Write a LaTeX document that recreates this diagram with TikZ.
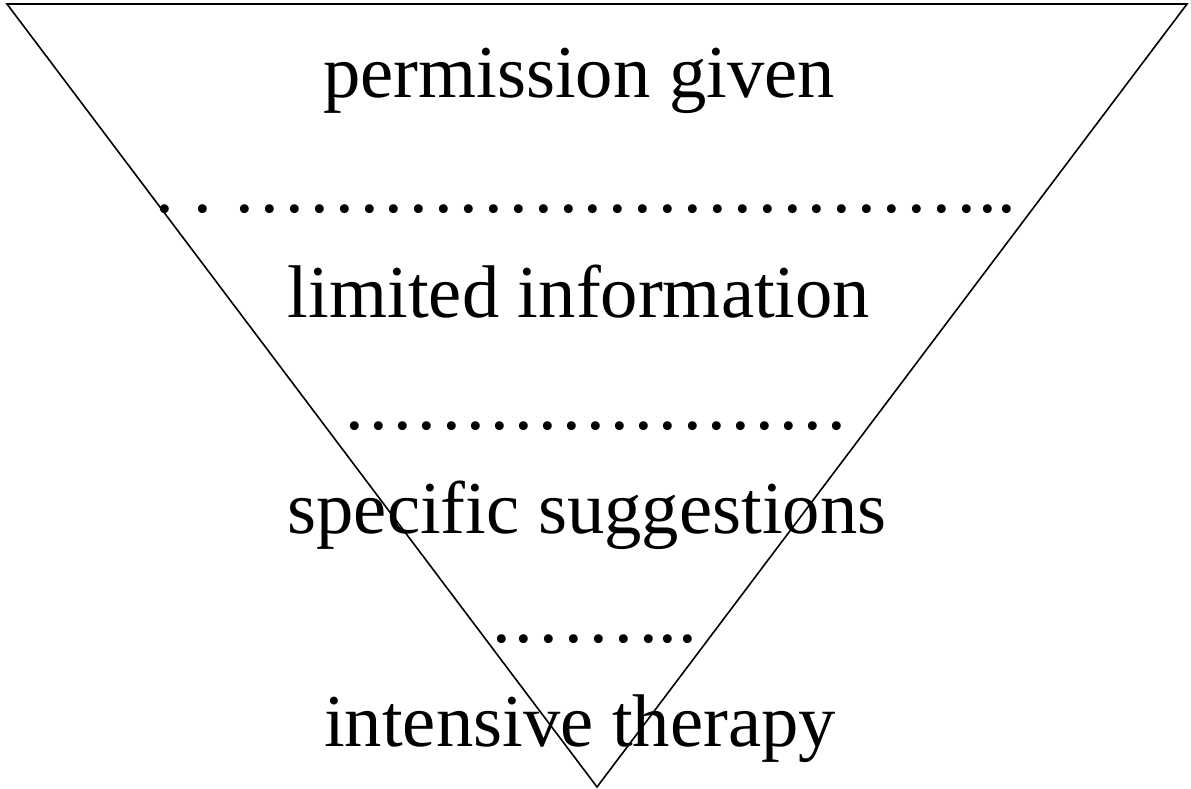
\documentclass[tikz,border=0pt]{standalone}
\usepackage{fontspec}
\setmainfont{Liberation Serif}
\begin{document}
\begin{tikzpicture}[x=1pt,y=-1pt,
  label/.style={inner sep=0pt,outer sep=0pt,anchor=base,font=\fontsize{74.6}{80}\selectfont},
  dotsrow/.style={inner sep=0pt,outer sep=0pt,anchor=base west,font=\fontsize{74.6}{80}\selectfont},
  edge/.style={line width=1.6pt,line join=miter}]
\useasboundingbox (0,0) rectangle (1191,789);
\coordinate (tl) at (7,4);
\coordinate (tr) at (1187,4);
\coordinate (ap) at (597,787);
\draw[edge] (tl) -- (tr) -- (ap) -- cycle;
\node[label] (t1) at (579,98) {permission given};
\node[label] (t2) at (579,317) {limited information};
\node[label] (t3) at (587,533) {specific suggestions};
\node[label] (t4) at (580,746) {intensive therapy};
\node[dotsrow] (d1) at (155.7,212) {.\kern19.35pt.\kern23.35pt.\kern6.23pt.\kern6.23pt.\kern6.23pt.\kern6.23pt.\kern6.23pt.\kern6.23pt.\kern6.23pt.\kern6.23pt.\kern6.23pt.\kern6.23pt.\kern6.23pt.\kern6.23pt.\kern6.23pt.\kern6.23pt.\kern6.23pt.\kern6.23pt.\kern6.23pt.\kern6.23pt.\kern6.23pt.\kern6.23pt.\kern6.23pt.\kern6.23pt.\kern6.23pt.\kern6.23pt.\kern6.23pt.\kern6.23pt.\kern6.23pt.\kern6.23pt.\kern6.23pt.\kern2.95pt.\kern0.35pt.};
\node[dotsrow] (d2) at (345.7,429) {.\kern5.45pt.\kern5.45pt.\kern5.45pt.\kern5.45pt.\kern5.45pt.\kern5.45pt.\kern5.45pt.\kern5.45pt.\kern5.45pt.\kern5.45pt.\kern5.45pt.\kern5.45pt.\kern5.45pt.\kern5.45pt.\kern5.45pt.\kern5.45pt.\kern5.45pt.\kern5.45pt.\kern5.45pt.\kern5.45pt.};
\node[dotsrow] (d3) at (492.7,642) {.\kern3.35pt.\kern6.35pt.\kern6.35pt.\kern6.35pt.\kern6.35pt.\kern6.35pt.\kern0.35pt.\kern1.35pt.};
\end{tikzpicture}
\end{document}
